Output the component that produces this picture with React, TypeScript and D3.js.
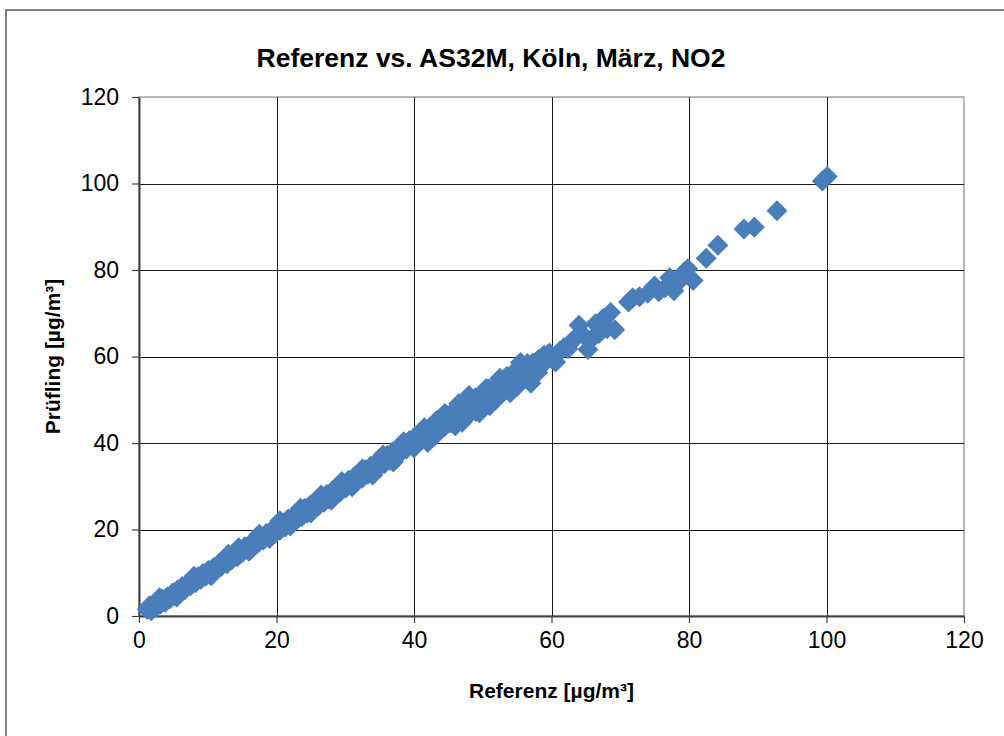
import React, { useEffect, useRef } from "react";
import * as d3 from "d3";

// Hourly NO2 pairs, March, Köln: reference vs. AS32M test instrument (µg/m³)
const referenz: number[] = [
  1.2, 1.5, 1.8, 2.1, 2.4, 2.8, 3.1, 3.4, 3.8, 4.1, 4.5, 4.9, 5.2, 5.6, 6.0, 6.3, 6.7, 7.1, 7.5, 7.8,
  8.2, 8.6, 9.0, 9.3, 9.7, 10.1, 10.5, 10.9, 11.2, 11.6, 12.0, 12.4, 12.8, 13.1, 13.5, 13.9, 14.3, 14.7, 15.0, 15.4,
  15.8, 16.2, 16.6, 17.0, 17.3, 17.7, 18.1, 18.5, 18.9, 19.3, 19.7, 20.1, 20.5, 20.9, 21.3, 21.7, 22.1, 22.5, 22.9, 23.3,
  23.7, 24.1, 24.5, 24.9, 25.3, 25.7, 26.1, 26.5, 26.9, 27.3, 27.7, 28.1, 28.5, 28.9, 29.3, 29.7, 30.1, 30.5, 30.9, 31.3,
  31.7, 32.1, 32.5, 32.9, 33.3, 33.7, 34.1, 34.5, 34.9, 35.3, 35.7, 36.1, 36.5, 36.9, 37.3, 37.7, 38.1, 38.5, 38.9, 39.3,
  39.7, 40.1, 40.5, 40.9, 41.3, 41.7, 42.1, 42.5, 42.9, 43.3, 43.7, 44.1, 44.5, 44.9, 45.3, 45.7, 46.1, 46.5, 46.9, 47.3,
  47.7, 48.1, 48.5, 48.9, 49.3, 49.7, 50.1, 50.5, 50.9, 51.3, 51.7, 52.1, 52.5, 52.9, 53.3, 53.7, 54.1, 54.5, 54.9, 55.3,
  55.7, 56.1, 56.5, 56.9, 57.3, 57.7, 58.1, 58.5, 58.9, 59.3, 59.7, 60.1, 60.6, 61.2, 61.8, 62.4, 63.0, 63.6, 64.0, 64.6,
  65.3, 65.8, 66.4, 66.9, 67.5, 68.1, 68.6, 69.2, 71.2, 71.8, 72.8, 74.0, 75.0, 75.6, 76.5, 77.2, 77.8, 78.4, 79.3, 79.8,
  80.6, 82.5, 84.2, 88.0, 89.5, 92.8, 99.4, 100.1,
  3.0, 5.5, 8.0, 10.5, 13.0, 14.5, 16.0, 17.5, 19.0, 20.5, 22.0, 23.5, 25.0, 26.5, 28.0, 29.5, 31.0, 32.5, 34.0, 35.5,
  37.0, 38.5, 40.0, 41.5, 43.0, 44.5, 46.0, 47.5, 49.0, 50.5, 52.0, 53.5, 55.0, 56.5, 58.0,
  42.0, 44.0, 46.5, 47.0, 48.0, 49.5, 51.0, 52.5, 54.0, 55.5, 57.0,
];

const pruefling: number[] = [
  1.5, 2.3, 1.2, 2.6, 1.9, 3.2, 2.7, 3.9, 3.1, 4.4, 4.0, 5.3, 4.7, 6.0, 5.4, 6.8, 6.1, 7.5, 7.0, 8.3,
  7.7, 9.1, 8.5, 9.8, 9.2, 10.6, 9.9, 11.3, 10.8, 12.1, 11.5, 12.9, 12.1, 13.6, 13.0, 14.4, 13.7, 15.2, 14.6, 16.0,
  15.3, 16.7, 15.9, 17.6, 16.9, 18.3, 17.6, 19.1, 18.3, 19.9, 19.1, 20.7, 19.8, 21.5, 20.6, 22.4, 21.5, 23.1, 22.2, 24.0,
  23.0, 24.9, 23.8, 25.6, 24.6, 26.5, 25.5, 27.4, 26.3, 28.1, 27.0, 28.9, 27.9, 29.8, 28.7, 30.6, 29.6, 31.4, 30.3, 32.2,
  31.1, 33.0, 31.9, 33.8, 32.8, 34.6, 33.6, 35.5, 34.4, 36.3, 35.2, 37.1, 36.0, 37.9, 36.9, 38.7, 37.8, 39.6, 38.6, 40.5,
  39.5, 41.4, 40.3, 42.2, 41.0, 42.6, 41.6, 43.8, 42.4, 45.2, 43.2, 44.8, 43.9, 46.3, 44.6, 47.3, 45.4, 48.0, 46.2, 47.6,
  46.1, 49.5, 47.8, 50.4, 48.5, 49.9, 51.8, 49.4, 52.5, 50.6, 53.1, 51.4, 52.2, 54.0, 52.5, 55.0, 53.4, 56.3, 55.0, 57.4,
  55.6, 54.9, 57.7, 56.5, 58.5, 57.2, 59.3, 58.0, 60.3, 59.0, 60.8, 59.4, 58.7, 61.2, 62.0, 61.8, 63.5, 64.5, 67.2, 65.0,
  61.6, 64.0, 67.6, 65.3, 68.8, 66.4, 70.2, 66.2, 72.6, 73.5, 73.8, 74.6, 76.3, 75.0, 75.9, 78.2, 75.2, 77.1, 79.5, 80.3,
  77.6, 82.7, 85.7, 89.5, 89.9, 93.7, 100.6, 101.6,
  4.2, 4.4, 9.2, 9.3, 14.3, 15.8, 15.0, 18.9, 17.9, 22.0, 20.8, 24.9, 23.8, 28.0, 26.8, 31.1, 29.9, 34.0, 32.6, 37.2,
  35.6, 40.3, 38.9, 43.5, 41.6, 46.8, 44.0, 49.6, 47.3, 52.6, 50.2, 55.4, 53.1, 58.4, 56.3,
  40.1, 45.9, 49.1, 44.8, 51.0, 47.0, 48.6, 55.0, 51.6, 58.6, 53.8,
];

const xTicks: number[] = [0, 20, 40, 60, 80, 100, 120];
const yTicks: number[] = [0, 20, 40, 60, 80, 100, 120];

const chartTitle = "Referenz vs. AS32M, Köln, März, NO2";
const xTitle = "Referenz [µg/m³]";
const yTitle = "Prüfling [µg/m³]";

const W = 1004;
const H = 736;
const plot = { left: 139, top: 97, right: 964, bottom: 616 };
const FONT = "'Liberation Sans', Arial, sans-serif";

export default function App() {
  const ref = useRef<SVGSVGElement | null>(null);

  useEffect(() => {
    const svg = d3.select(ref.current);
    svg.selectAll("*").remove();

    const x = d3.scaleLinear().domain([0, 120]).range([plot.left, plot.right]);
    const y = d3.scaleLinear().domain([0, 120]).range([plot.bottom, plot.top]);

    svg.append("rect").attr("width", W).attr("height", H).attr("fill", "#fff");

    // chart frame
    svg
      .append("rect")
      .attr("x", 6)
      .attr("y", 10)
      .attr("width", W + 20)
      .attr("height", H + 20)
      .attr("fill", "none")
      .attr("stroke", "#5a5a5a")
      .attr("stroke-width", 1.5);

    // plot area border
    svg
      .append("rect")
      .attr("x", plot.left)
      .attr("y", plot.top)
      .attr("width", plot.right - plot.left)
      .attr("height", plot.bottom - plot.top)
      .attr("fill", "#fff")
      .attr("stroke", "#a0a0a0")
      .attr("stroke-width", 1.5);

    const grid = svg.append("g").attr("shape-rendering", "crispEdges");
    grid
      .selectAll("line.h")
      .data(yTicks.filter((t) => t > 0 && t < 120))
      .join("line")
      .attr("class", "h")
      .attr("x1", plot.left)
      .attr("x2", plot.right)
      .attr("y1", (d) => Math.round(y(d)) + 0.5)
      .attr("y2", (d) => Math.round(y(d)) + 0.5)
      .attr("stroke", "#1a1a1a")
      .attr("stroke-width", 1);
    grid
      .selectAll("line.v")
      .data(xTicks.filter((t) => t > 0 && t < 120))
      .join("line")
      .attr("class", "v")
      .attr("y1", plot.top)
      .attr("y2", plot.bottom)
      .attr("x1", (d) => Math.round(x(d)) + 0.5)
      .attr("x2", (d) => Math.round(x(d)) + 0.5)
      .attr("stroke", "#1a1a1a")
      .attr("stroke-width", 1);

    // axes
    const xAxis = d3.axisBottom(x).tickValues(xTicks).tickSize(7).tickSizeOuter(0).tickPadding(9);
    const yAxis = d3.axisLeft(y).tickValues(yTicks).tickSize(7).tickSizeOuter(0).tickPadding(13);

    const gx = svg.append("g").attr("transform", `translate(0,${plot.bottom})`).call(xAxis);
    const gy = svg.append("g").attr("transform", `translate(${plot.left},0)`).call(yAxis);
    [gx, gy].forEach((g) => {
      g.select(".domain").attr("stroke", "#404040").attr("stroke-width", 2);
      g.selectAll(".tick line").attr("stroke", "#404040").attr("stroke-width", 1.2);
      g.selectAll(".tick text")
        .attr("fill", "#000")
        .style("font-family", FONT)
        .style("font-size", "23px");
    });

    // markers
    const r = 10.5;
    const diamond = `M0,${-r}L${r},0L0,${r}L${-r},0Z`;
    svg
      .append("g")
      .selectAll("path")
      .data(d3.range(referenz.length))
      .join("path")
      .attr("d", diamond)
      .attr("transform", (i) => `translate(${x(referenz[i])},${y(pruefling[i])})`)
      .attr("fill", "#4a7ebb");

    // titles
    svg
      .append("text")
      .attr("x", 491)
      .attr("y", 67)
      .attr("text-anchor", "middle")
      .style("font-family", FONT)
      .style("font-weight", "bold")
      .style("font-size", "26.5px")
      .text(chartTitle);

    svg
      .append("text")
      .attr("x", (plot.left + plot.right) / 2)
      .attr("y", 698)
      .attr("text-anchor", "middle")
      .style("font-family", FONT)
      .style("font-weight", "bold")
      .style("font-size", "21px")
      .text(xTitle);

    svg
      .append("text")
      .attr("transform", `translate(60,${(plot.top + plot.bottom) / 2}) rotate(-90)`)
      .attr("text-anchor", "middle")
      .style("font-family", FONT)
      .style("font-weight", "bold")
      .style("font-size", "21px")
      .text(yTitle);
  }, []);

  return (
    <svg
      ref={ref}
      width={W}
      height={H}
      style={{ position: "absolute", left: 0, top: 0, display: "block" }}
    />
  );
}
